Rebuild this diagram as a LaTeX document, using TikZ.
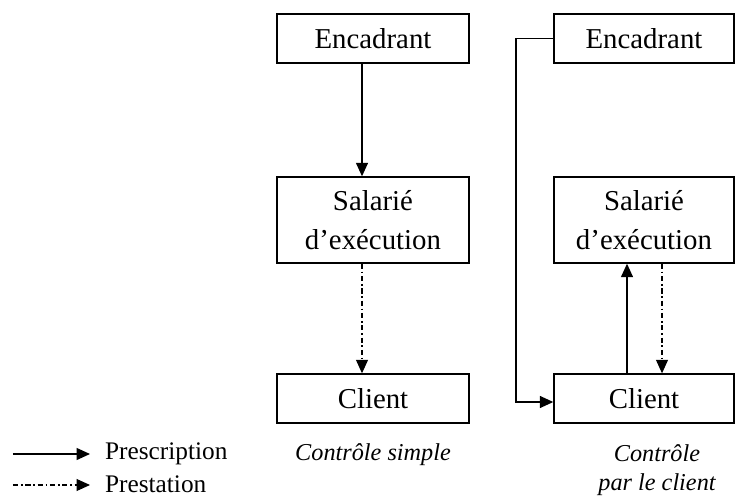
\documentclass[tikz,border=0pt]{standalone}
\usepackage{fontspec}
\setmainfont{Liberation Serif}
\usepackage{tikz}
\usetikzlibrary{positioning,calc,arrows.meta}

\tikzset{
    boite/.style={draw, thick, rectangle, inner sep=0pt, align=center,
        font=\fontsize{16.4pt}{22pt}\selectfont},
    prescr/.style={line width=0.8pt, -{Triangle[length=0.27cm,width=0.24cm]}},
    prest/.style={line width=0.6pt, dash pattern=on 3pt off 1.5pt on 1pt off 1.5pt,
        -{Triangle[length=0.27cm,width=0.24cm]}},
    legende/.style={font=\fontsize{14.4pt}{17pt}\selectfont, anchor=west, inner sep=1pt},
    titre/.style={font=\fontsize{13.8pt}{16.5pt}\selectfont\itshape, align=center}
}

\begin{document}
\begin{tikzpicture}
    \useasboundingbox (0,0) rectangle (14.7,9.96);

    % Controle simple
    \begin{scope}
        \node[boite, minimum width=3.84cm, minimum height=0.98cm] (enc1) at (7.46,9.19) {Encadrant};
        \node[boite, minimum width=3.84cm, minimum height=1.72cm] (sal1) at (7.46,5.56) {Salarié\\d’exécution};
        \node[boite, minimum width=3.84cm, minimum height=0.98cm] (cli1) at (7.46,1.99) {Client};
        \node[titre] (tit1) at (7.46,0.86) {Contrôle simple};
        \draw[prescr] (enc1.south -| 7.24,0) -- (sal1.north -| 7.24,0);
        \draw[prest] (sal1.south -| 7.24,0) -- (cli1.north -| 7.24,0);
    \end{scope}

    % Controle par le client
    \begin{scope}
        \node[boite, minimum width=3.6cm, minimum height=0.98cm] (enc2) at (12.88,9.19) {Encadrant};
        \node[boite, minimum width=3.6cm, minimum height=1.72cm] (sal2) at (12.88,5.56) {Salarié\\d’exécution};
        \node[boite, minimum width=3.6cm, minimum height=0.98cm] (cli2) at (12.88,1.99) {Client};
        \node[titre] (tit2) at (13.14,0.56) {Contrôle\\par le client};
        \coordinate (coin1) at (10.32,9.19);
        \coordinate (coin2) at (10.32,1.92);
        \draw[prescr] (enc2.west) -- (coin1) -- (coin2) -- (coin2 -| cli2.west);
        \draw[prescr] (cli2.north -| 12.54,0) -- (sal2.south -| 12.54,0);
        \draw[prest] (sal2.south -| 13.24,0) -- (cli2.north -| 13.24,0);
    \end{scope}

    % Legende
    \coordinate (l1) at (0.26,0.88);
    \coordinate (l2) at (0.26,0.26);
    \node[legende] (presc) at (2.06,0.88) {Prescription};
    \node[legende] (prest) at (2.06,0.28) {Prestation};
    \draw[prescr, shorten >=0.26cm] (l1) -- (presc.west);
    \draw[prest, shorten >=0.26cm] (l2) -- (l2 -| prest.west);
\end{tikzpicture}
\end{document}
